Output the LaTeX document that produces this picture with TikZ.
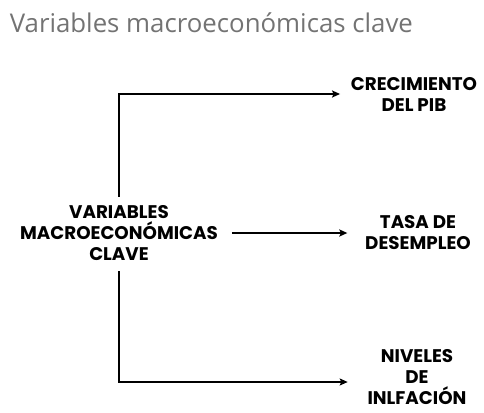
\documentclass[tikz,border=0pt]{standalone}
\usepackage{fontspec}
\usepackage{tikz}
\usetikzlibrary{arrows.meta}
\newfontfamily\titlefont{Open Sans}
\newfontfamily\boxfont[BoldFont={Poppins Bold}]{Poppins}

\begin{document}
\begin{tikzpicture}[x=1pt, y=-1pt, line width=1.7pt]
    \tikzset{label/.style={
      align=center, inner sep=2pt,
      font=\boxfont\bfseries\fontsize{18.3}{21}\selectfont}}
    \tikzset{arr/.style={-{Stealth[length=8pt, width=7pt, inset=1.5pt]}}}

    \useasboundingbox (0, 0) rectangle (484, 412);

    % Title
    \node [anchor=base west, text=black!55, inner sep=0pt,
           font=\titlefont\fontsize{25.8}{30}\selectfont]
          (title) at (9, 33) {Variables macroeconómicas clave};

    % Nodes
    \node [label] (var) at (119, 233)
          {VARIABLES\\MACROECONÓMICAS\\CLAVE};
    \node [label] (crec) at (414, 94) {CRECIMIENTO\\DEL PIB};
    \node [label] (tasa) at (418, 233) {TASA DE\\DESEMPLEO};
    \node [label] (niv) at (417, 377) {NIVELES\\DE\\INLFACIÓN};

    % Edges
    \draw [arr, shorten <=6pt, shorten >=8pt] (var.north) |- (crec.west);
    \draw [arr, shorten <=11pt, shorten >=15pt] (var.east) -- (tasa.west);
    \draw [arr, shorten <=8pt, shorten >=17pt] (var.south) |- ([yshift=-5pt]niv.west);
\end{tikzpicture}
\end{document}
